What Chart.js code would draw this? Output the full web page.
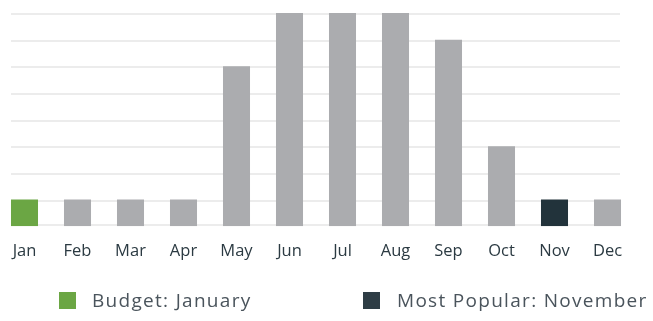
<!DOCTYPE html>
<html>
<head>
<meta charset="utf-8">
<script src="https://cdn.jsdelivr.net/npm/chart.js@4/dist/chart.umd.min.js"></script>
<style>
  html, body { margin: 0; padding: 0; background: #fff; }
  #wrap { position: relative; width: 653px; height: 321px; overflow: hidden; }
  #chart-box { position: absolute; left: -2px; top: 0; width: 636px; height: 321px; }
  .legend-box { position: absolute; top: 292px; width: 17px; height: 17px; }
  .legend-text { position: absolute; top: 291px; font: 19px "Open Sans", sans-serif; letter-spacing: 1.3px; line-height: 19px; color: #4a545c; white-space: nowrap; }
</style>
</head>
<body>
<div id="wrap">
  <div id="chart-box"><canvas id="months-chart"></canvas></div>
  <div class="legend-box" style="left:59px;background:#6ba644"></div>
  <div class="legend-text" style="left:92px">Budget: January</div>
  <div class="legend-box" style="left:363px;background:#2e3d45"></div>
  <div class="legend-text" style="left:397px">Most Popular: November</div>
</div>
<script>
const months = ['Jan', 'Feb', 'Mar', 'Apr', 'May', 'Jun', 'Jul', 'Aug', 'Sep', 'Oct', 'Nov', 'Dec'];
const popularity = [1, 1, 1, 1, 6, 8, 8, 8, 7, 3, 1, 1];
const gridValues = [0, 1, 2, 3, 4, 5, 6, 7, 8];

const barGrey = '#abacaf';
const budgetGreen = '#6ba644';
const popularDark = '#22333b';

// January is the budget pick, November the most popular month
const barColors = months.map((m) => {
  if (m === 'Jan') return budgetGreen;
  if (m === 'Nov') return popularDark;
  return barGrey;
});

// horizontal guide lines, inset a bit from the plot edges
// (sit just under the bar tops, base line just above the bar bottoms)
const guideLines = {
  id: 'guideLines',
  beforeDatasetsDraw(chart) {
    const { ctx, chartArea, scales } = chart;
    ctx.save();
    ctx.strokeStyle = '#ececec';
    ctx.lineWidth = 2;
    for (const v of gridValues) {
      const y = Math.round(scales.y.getPixelForValue(v)) + (v === 0 ? -1 : 1);
      ctx.beginPath();
      ctx.moveTo(chartArea.left + 13, y);
      ctx.lineTo(chartArea.right - 14, y);
      ctx.stroke();
    }
    ctx.restore();
  }
};

const ctx = document.getElementById('months-chart').getContext('2d');
new Chart(ctx, {
  type: 'bar',
  data: {
    labels: months,
    datasets: [{
      data: popularity,
      backgroundColor: barColors,
      borderWidth: 0,
      categoryPercentage: 1,
      barPercentage: 0.51
    }]
  },
  options: {
    responsive: true,
    maintainAspectRatio: false,
    animation: false,
    layout: { padding: { top: 13, bottom: 53, left: 0, right: 0 } },
    plugins: {
      legend: { display: false },
      tooltip: { enabled: false }
    },
    scales: {
      x: {
        grid: { display: false },
        border: { display: false },
        ticks: {
          padding: 7,
          color: '#2b3a42',
          font: { family: 'Open Sans', size: 16.5 },
          maxRotation: 0
        }
      },
      y: {
        display: false,
        min: 0,
        max: 8,
        ticks: { stepSize: 1 }
      }
    }
  },
  plugins: [guideLines]
});
</script>
</body>
</html>
